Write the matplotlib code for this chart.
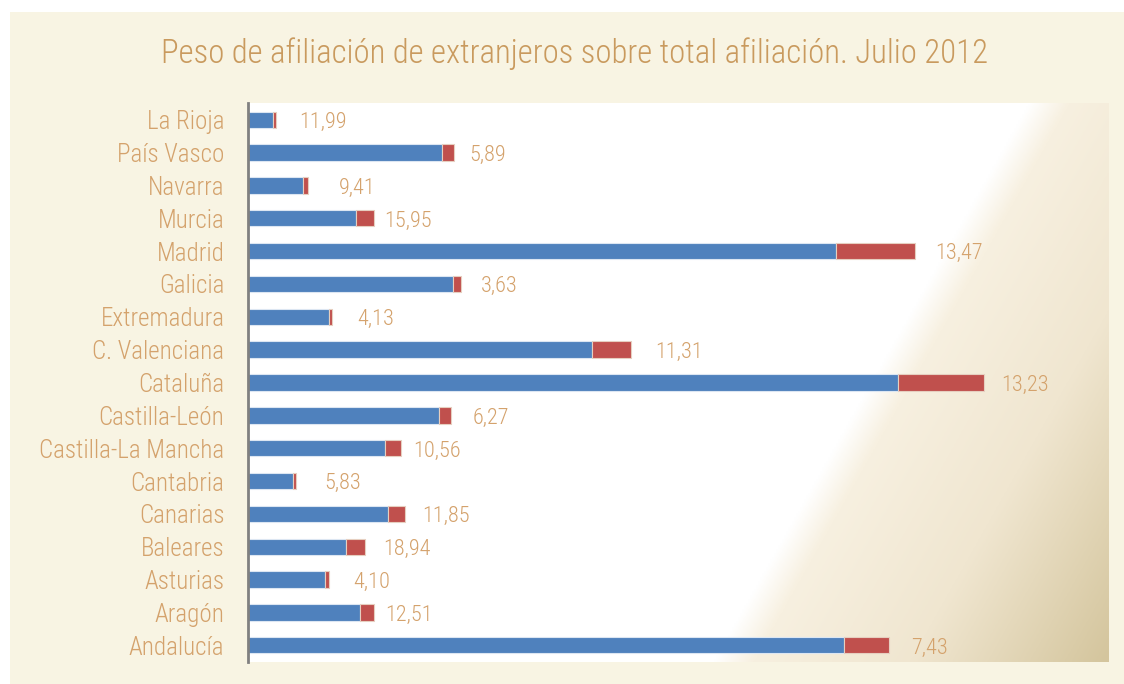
import numpy as np
import matplotlib
matplotlib.use("Agg")
import matplotlib.pyplot as plt
from matplotlib.colors import LinearSegmentedColormap
from matplotlib.patches import Rectangle

# ---------------- data (top to bottom as shown) ----------------
regions = ["La Rioja", "País Vasco", "Navarra", "Murcia", "Madrid", "Galicia",
           "Extremadura", "C. Valenciana", "Cataluña", "Castilla-León",
           "Castilla-La Mancha", "Cantabria", "Canarias", "Baleares",
           "Asturias", "Aragón", "Andalucía"]
# afiliados (miles) españoles / extranjeros
spanish = [105, 815, 230, 454, 2467, 861, 341, 1445, 2727, 802,
           577, 189, 587, 413, 325, 470, 2503]
foreign = [11, 49, 22, 74, 332, 32, 11, 162, 360, 50,
           63, 11, 70, 78, 14, 60, 185]
pct_labels = [11.99, 5.89, 9.41, 15.95, 13.47, 3.63, 4.13, 11.31, 13.23, 6.27,
              10.56, 5.83, 11.85, 18.94, 4.10, 12.51, 7.43]

title = "Peso de afiliación de extranjeros sobre total afiliación. Julio 2012"

# ---------------- style ----------------
label_pad_px = [24, 15, 31, 10, 20, 20, 25, 24, 18, 22, 13, 29, 18, 18, 24, 11, 23]
FONT = ["Roboto Condensed", "Roboto", "DejaVu Sans"]
WEIGHT = "light"
TAN_TITLE = "#C99A5E"
TAN = "#D4A26C"
BLUE = "#4F81BD"
RED = "#C0504D"
CREAM = "#F8F4E3"

plt.rcParams["font.family"] = FONT

W, H = 1124, 684
fig = plt.figure(figsize=(W / 100, H / 100), dpi=100)
fig.patch.set_facecolor("white")
fig.patches.append(Rectangle((10 / W, 0), 1 - 10 / W, 1 - 12 / H,
                             transform=fig.transFigure, facecolor=CREAM,
                             edgecolor="none", zorder=-10))

ax_l, ax_r, ax_t, ax_b = 248, 1108.7, 103.3, 661.7
ax = fig.add_axes([ax_l / W, (H - ax_b) / H, (ax_r - ax_l) / W, (ax_b - ax_t) / H])
ax.set_facecolor("white")

# gradient background of the plot area
nx, ny = 430, 280
fx = np.linspace(0, 1, nx)
fy = np.linspace(0, 1, ny)  # from top
FX, FY = np.meshgrid(fx, fy)
px = ax_l + FX * (ax_r - ax_l)
py = ax_t + FY * (ax_b - ax_t)
d = px * 0.8706 + py * 0.4919 - 946.6
t = np.clip(d / 343.6, 0, 1)
cmap = LinearSegmentedColormap.from_list(
    "bg", [(0.0, (1, 1, 1)),
           (0.10, (247 / 255, 240 / 255, 224 / 255)),
           (0.5, (240 / 255, 230 / 255, 208 / 255)),
           (1.0, (212 / 255, 197 / 255, 157 / 255))])
ax.imshow(t, cmap=cmap, vmin=0, vmax=1, extent=[0, 1, 0, 1], origin="upper",
          transform=ax.transAxes, aspect="auto", zorder=0, interpolation="bilinear")

n = len(regions)
y = np.arange(n)[::-1]
ax.barh(y, spanish, height=0.5, color=BLUE, edgecolor="#DCE6F2", linewidth=0.8, zorder=2)
ax.barh(y, foreign, left=spanish, height=0.5, color=RED, edgecolor="#E6CFC0",
        linewidth=0.8, zorder=2)

for yi, s, f, p, pad in zip(y, spanish, foreign, pct_labels, label_pad_px):
    ax.annotate(f"{p:.2f}".replace(".", ","), xy=(s + f, yi),
                xytext=(pad * 0.72, -2.0), textcoords="offset points",
                ha="left", va="center", fontsize=16, color=TAN,
                fontweight=WEIGHT, zorder=3)

xmax = 3612
ax.set_xlim(0, xmax)
ax.set_ylim(-0.5, n - 0.5)
ax.set_yticks(y)
ax.set_yticklabels(regions, fontsize=18, color=TAN, fontweight=WEIGHT)
ax.tick_params(axis="y", length=0, pad=17)
ax.set_xticks([])
for s in ["top", "right", "bottom"]:
    ax.spines[s].set_visible(False)
ax.spines["left"].set_color("#808080")
ax.spines["left"].set_linewidth(2)
ax.spines["left"].set_zorder(4)

fig.text((162 + 987) / 2 / W, 1 - 54 / H, title, ha="center", va="center",
         fontsize=23.6, color=TAN_TITLE, fontweight=WEIGHT)

fig.savefig("out.png", dpi=100, facecolor=fig.get_facecolor())
